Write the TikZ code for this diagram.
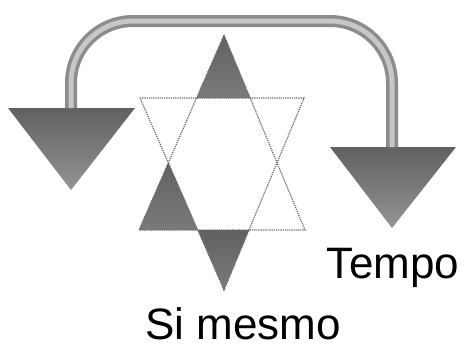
\documentclass[tikz,border=0pt]{standalone}
\usepackage{fontspec}
\setmainfont{Liberation Sans}
\begin{document}
\begin{tikzpicture}[
            x=1pt, y=-1pt,
            tube/.style = {draw=black!45, double=black!22, double distance=5pt, line width=3.5pt, rounded corners=62pt},
            head/.style = {top color=black!62, bottom color=black!42, draw=none},
            piece/.style = {top color=black!62, bottom color=black!52, draw=none},
            edge/.style = {draw=black!60, densely dotted, line width=1.2pt},
            every node/.style = {font=\fontsize{44}{50}\selectfont, inner sep=0pt}
          ]
          \useasboundingbox (0,0) rectangle (466,349);
          % arrow heads
          \coordinate (lt) at (71,108);
          \coordinate (rt) at (392,147);
          \path[head] (8,108) -- (135,108) -- (71,190) -- cycle;
          \path[head] (330,147) -- (456,147) -- (392,228) -- cycle;
          \draw[tube] (lt) -- (71,21) -- (392,21) -- (rt);
          % star
          \coordinate (ua) at (224,35);
          \coordinate (ul) at (139,230);
          \coordinate (ur) at (305,230);
          \coordinate (dl) at (140,98);
          \coordinate (dr) at (304,98);
          \coordinate (db) at (224,290);
          \coordinate (x1) at (intersection of ua--ul and dl--dr);
          \coordinate (x2) at (intersection of ua--ur and dl--dr);
          \coordinate (x3) at (intersection of ua--ul and dl--db);
          \coordinate (x4) at (intersection of dl--db and ul--ur);
          \coordinate (x5) at (intersection of dr--db and ul--ur);
          \path[piece] (ua) -- (x1) -- (x2) -- cycle;
          \path[piece] (x3) -- (ul) -- (x4) -- cycle;
          \path[piece] (x4) -- (x5) -- (db) -- cycle;
          \draw[edge] (ua) -- (ul) -- (ur) -- cycle;
          \draw[edge] (dl) -- (dr) -- (db) -- cycle;
          % labels
          \node[anchor=base] (tempo) at (393,278) {Tempo};
          \node[anchor=base] (self) at (243,339) {Si mesmo};
        \end{tikzpicture}
\end{document}
